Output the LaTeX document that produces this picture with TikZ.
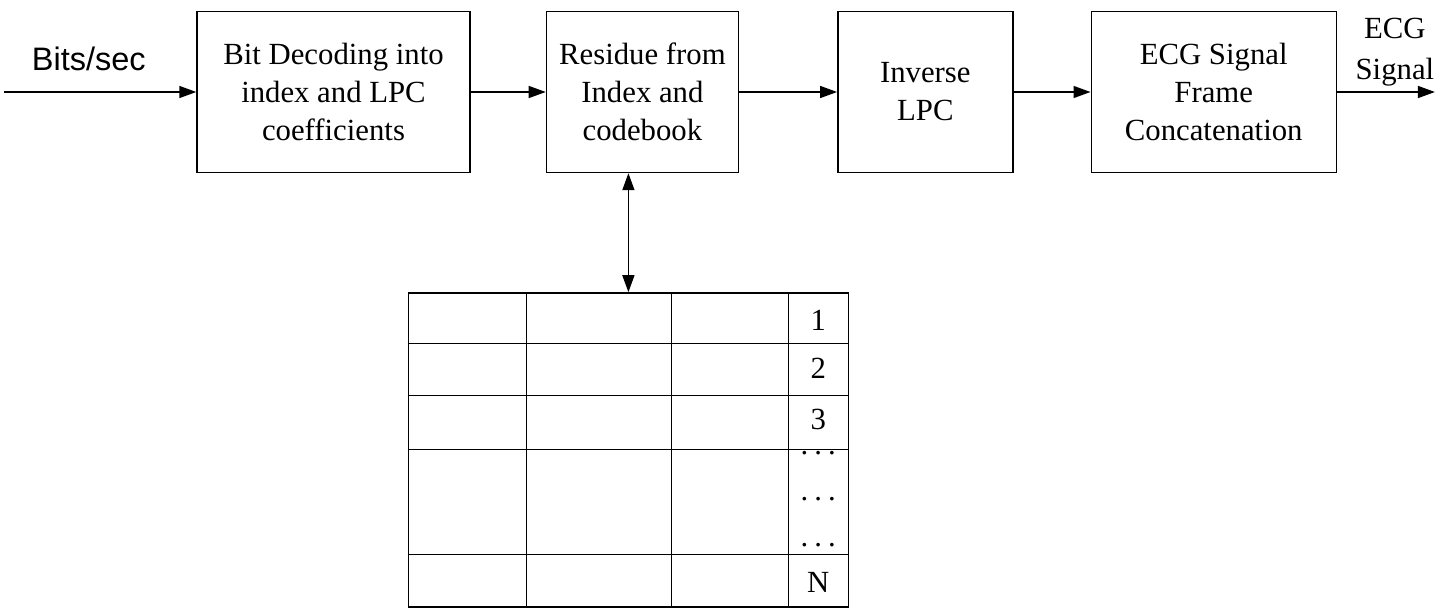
\documentclass[tikz,border=0pt]{standalone}
\usepackage{fontspec}
\setmainfont{Liberation Serif}
\newfontfamily\arialfont{Liberation Sans}
\usetikzlibrary{arrows.meta, positioning}

\newcommand{\rowdots}{.\hspace{0.2em}.\hspace{0.2em}.}

\begin{document}
\begin{tikzpicture}[
      >={Triangle[length=0.34cm,width=0.24cm]},
      line width=0.8pt,
      block/.style={
        rectangle, draw, align=center, minimum height=3.22cm,
        font=\fontsize{17.5}{21.6}\selectfont
      },
      gridline/.style={line width=0.6pt},
      idx/.style={font=\fontsize{17.5}{21}\selectfont, inner sep=0pt, anchor=base}
    ]
    \useasboundingbox (0,0) rectangle (28.88,12.14);

    \node[block, minimum width=5.46cm] (bdec) at (6.67,10.3)
      {Bit Decoding into\\index and LPC\\coefficients};
    \node[block, minimum width=3.84cm, right=1.5cm of bdec] (resid)
      {Residue from\\Index and\\codebook};
    \node[block, minimum width=3.5cm, right=1.96cm of resid] (invlpc)
      {Inverse\\LPC};
    \node[block, minimum width=4.9cm, right=1.54cm of invlpc] (concat)
      {ECG Signal\\Frame\\Concatenation};

    % codebook table
    \node[draw, inner sep=0pt, minimum width=8.8cm, minimum height=6.28cm,
      below=2.38cm of resid, xshift=-0.28cm] (cbook) {};
    \foreach \dx in {2.38,5.28,7.62}
      \draw[gridline] ([xshift=\dx cm]cbook.north west) -- ([xshift=\dx cm]cbook.south west);
    \foreach \dy in {1.02,2.06,3.14,5.24}
      \draw[gridline] ([yshift=-\dy cm]cbook.north west) -- ([yshift=-\dy cm]cbook.north east);
    \foreach \lbl/\dy [count=\k] in {1/0.76, 2/1.72, 3/2.74, \rowdots/3.24, \rowdots/4.16, \rowdots/5.08, N/6.0}
      \node[idx] (row\k) at ([xshift=8.21cm, yshift=-\dy cm]cbook.north west) {\lbl};

    \coordinate (in) at ([xshift=-3.84cm]bdec.west);
    \coordinate (out) at ([xshift=1.96cm]concat.east);

    \draw[->] (in) -- node[pos=0.44, above=0.4cm, inner sep=0pt,
      font=\arialfont\fontsize{18.5}{22}\selectfont] (bitsin) {Bits/sec} (bdec);
    \draw[->] (bdec) -- (resid);
    \draw[->] (resid) -- (invlpc);
    \draw[->] (invlpc) -- (concat);
    \draw[->] (concat) -- (out);
    \node[font=\fontsize{17.5}{23}\selectfont, align=center, inner sep=0pt]
      (ecgout) at ([xshift=1.16cm, yshift=0.8cm]concat.east) {ECG\\Signal};

    \draw[<->] (resid.south -| cbook.north) -- (cbook.north);
  \end{tikzpicture}
\end{document}
